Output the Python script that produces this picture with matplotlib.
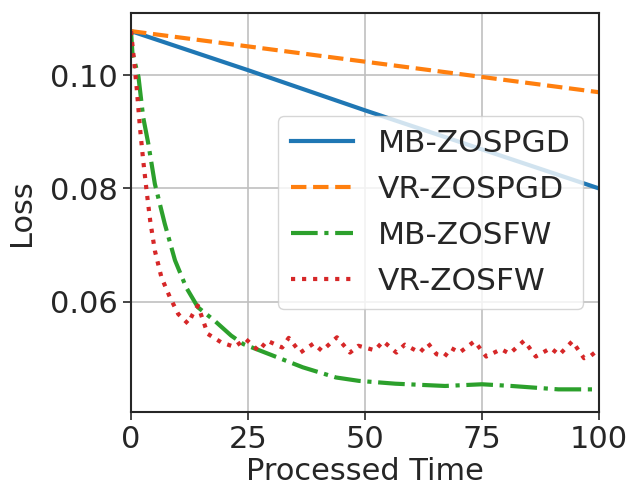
import matplotlib
matplotlib.use("Agg")
import matplotlib.pyplot as plt

# ---- data ----
mb_pgd_x = [0, 25, 50, 75, 100]
mb_pgd_y = [0.1078, 0.1009, 0.0938, 0.0869, 0.0800]

vr_pgd_x = [0, 25, 50, 75, 100]
vr_pgd_y = [0.1078, 0.1051, 0.1024, 0.0997, 0.0970]

mb_fw_x = [0, 0.3, 1.6, 2.6, 3.7, 5.1, 7.2, 9.4, 11.8, 14.3, 17.9, 21.4, 24.0,
           29.6, 36.7, 43.8, 48.7, 56.5, 67.1, 75.0, 81.3, 91.3, 100]
mb_fw_y = [0.1078, 0.1040, 0.0997, 0.0926, 0.0879, 0.0808, 0.0738, 0.0673, 0.0625,
           0.0590, 0.0566, 0.0540, 0.0525, 0.0507, 0.0484, 0.0466, 0.0460, 0.0455,
           0.0451, 0.0454, 0.0451, 0.0445, 0.0445]

vr_fw_x = [0, 0.5, 1.2, 1.9, 2.6, 3.4, 4.1, 5.1, 6.5, 8.3, 10.1, 12.2, 13.2, 14.3,
           16.4, 19.3, 22.1, 24.5, 27.3, 29.1, 32.3, 33.7, 36.2, 39.0, 40.8, 44.0,
           46.8, 48.6, 52.1, 53.9, 56.7, 58.5, 61.7, 63.5, 65.3, 67.0, 68.4, 70.2,
           73.4, 75.9, 79.1, 80.9, 84.0, 86.5, 89.7, 91.5, 94.3, 96.8, 98.2, 100]
vr_fw_y = [0.1078, 0.1038, 0.0979, 0.0909, 0.0850, 0.0791, 0.0743, 0.0690, 0.0643,
           0.0608, 0.0578, 0.0561, 0.0578, 0.0593, 0.0543, 0.0528, 0.0520, 0.0534,
           0.0513, 0.0531, 0.0519, 0.0536, 0.0510, 0.0526, 0.0513, 0.0537, 0.0510,
           0.0522, 0.0514, 0.0530, 0.0510, 0.0524, 0.0510, 0.0526, 0.0507, 0.0503,
           0.0518, 0.0510, 0.0530, 0.0503, 0.0516, 0.0508, 0.0531, 0.0503, 0.0518,
           0.0506, 0.0530, 0.0500, 0.0504, 0.0516]

labels = ["MB-ZOSPGD", "VR-ZOSPGD", "MB-ZOSFW", "VR-ZOSFW"]
x_ticks = [0, 25, 50, 75, 100]
y_ticks = [0.06, 0.08, 0.10]

plt.rcParams.update({
    "font.family": ["DejaVu Sans"],
    "font.size": 22,
    "text.color": "#262626",
    "axes.labelcolor": "#262626",
    "xtick.color": "#262626",
    "ytick.color": "#262626",
    "axes.edgecolor": "#262626",
})

fig = plt.figure(figsize=(6.33, 4.92), dpi=100)
ax = fig.add_axes([131/633, 80/492, (599-131)/633, (412-13)/492])

ax.plot(mb_pgd_x, mb_pgd_y, color="#1f77b4", lw=3, ls="-", label=labels[0])
ax.plot(vr_pgd_x, vr_pgd_y, color="#ff7f0e", lw=3, ls="--", label=labels[1])
ax.plot(mb_fw_x, mb_fw_y, color="#2ca02c", lw=3, ls="-.", label=labels[2])
ax.plot(vr_fw_x, vr_fw_y, color="#d62728", lw=3, ls=":", label=labels[3])

ax.set_xlim(0, 100)
ax.set_ylim(0.0405, 0.111)
ax.set_xticks(x_ticks)
ax.set_yticks(y_ticks)
ax.set_yticklabels([f"{v:.2f}" for v in y_ticks])
ax.tick_params(labelsize=22, width=1.2, length=6)
ax.grid(True, color="#c0c0c0", lw=1.2)
ax.set_axisbelow(True)
for s in ax.spines.values():
    s.set_linewidth(1.5)
ax.set_xlabel("Processed Time", fontsize=22, labelpad=2)
ax.set_ylabel("Loss", fontsize=22, labelpad=10)
ax.legend(loc="center right", fontsize=22.5, framealpha=0.8, labelspacing=0.55)

fig.savefig("out.png", dpi=100)
